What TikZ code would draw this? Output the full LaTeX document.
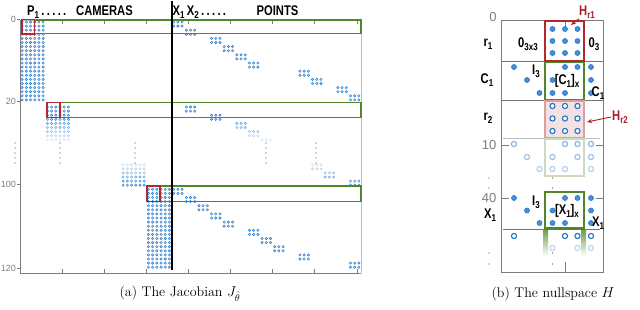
\documentclass[tikz,border=0pt]{standalone}
\usepackage{fontspec}
\usetikzlibrary{arrows.meta}
\newfontfamily\lblfont[FakeStretch=0.8]{Liberation Sans}
\newfontfamily\numfont{Liberation Sans}
\definecolor{jblue}{RGB}{45,125,205}
\definecolor{hblue}{RGB}{30,115,200}
\definecolor{gbox}{RGB}{80,135,40}
\definecolor{rbox}{RGB}{180,40,45}
\definecolor{hred}{RGB}{165,30,40}
\definecolor{axgray}{RGB}{125,125,125}
\newcommand\lsub[1]{\raisebox{-0.45ex}{\fontsize{10}{10}\selectfont #1}}

\begin{document}
\begin{tikzpicture}[
  x=1pt,
  y=-1pt,
  font=\numfont\fontsize{9}{10}\selectfont,
  lbl/.style={font=\lblfont\bfseries\fontsize{14}{14}\selectfont, inner sep=0pt},
  tick/.style={text=axgray, inner sep=0pt},
  bigtick/.style={font=\numfont\fontsize{13}{13}\selectfont, text=axgray, inner sep=0pt},
  jd/.style={draw=jblue, fill=jblue!40, line width=0.4pt},
  hd/.style={draw=hblue, fill=hblue!80, line width=0.6pt},
  ho/.style={draw=hblue, fill=white, line width=1.1pt},
  greenbox/.style={draw=gbox, line width=1.6pt},
  redbox/.style={draw=rbox, line width=1.6pt},
  capt/.style={font=\rmfamily\fontsize{14}{16}\selectfont, inner sep=0pt}
]
\useasboundingbox (0,0) rectangle (640,309);

% ---- (a) Jacobian: axes
\draw[axgray!50, line width=0.6pt] (20,20) -- (361,20) -- (361,273);
\draw[axgray, line width=0.8pt] (20,20) -- (20,273) -- (361,273);
\foreach \i in {1,...,8} {
  \draw[axgray, line width=0.6pt] ({20+42.1*\i},273) -- ({20+42.1*\i},269);
  \draw[axgray, line width=0.6pt] ({20+42.1*\i},20) -- ({20+42.1*\i},24);
}
\foreach \y/\lab in {19/0,101/20,184/100,268/120} {
  \draw[axgray, line width=0.6pt] (17,\y) -- (20,\y);
  \node[tick, anchor=east] (ya\lab) at (16,\y) {\lab};
}
\foreach \x in {15,60,135,266,316}
  \foreach \y in {143,148,...,163}
    \fill[black!70] (\x,\y) circle[radius=0.6pt];

% camera 1
\foreach \r in {0,...,19}
  \foreach \c in {0,...,5}
    \filldraw[jd] ({20+4.21*(\c+0.5)},{22+4.1*\r}) circle[radius=1.25pt];
\foreach \k [count=\i from 0] in {0,1,3,4,5,6,10,11,13,14}
  \foreach \rr in {0,1}
    \foreach \j in {0,1,2}
      \filldraw[jd] ({20+4.21*(36+3*\k+\j+0.5)},{22+4.1*(2*\i+\rr)}) circle[radius=1.25pt];

% camera 2 (fades out)
\foreach \r/\op in {0/1,1/1,2/1,3/.9,4/.7,5/.55,6/.4,7/.28,8/.16}
  \foreach \c in {6,...,11}
    \filldraw[jd, opacity=\op] ({20+4.21*(\c+0.5)},{107+4.1*\r}) circle[radius=1.25pt];
\foreach \k/\r/\op in {1/0/1,1/1/1,3/2/1,3/3/1,5/4/.7,5/5/.55,6/6/.4,6/7/.28,7/8/.16}
  \foreach \j in {0,1,2}
    \filldraw[jd, opacity=\op] ({20+4.21*(36+3*\k+\j+0.5)},{107+4.1*\r}) circle[radius=1.25pt];

% camera 5 (fades in)
\foreach \r/\op in {0/.2,1/.3,2/.45,3/.6,4/.8,5/.95}
  \foreach \c in {24,...,29}
    \filldraw[jd, opacity=\op] ({20+4.21*(\c+0.5)},{164.7+4.1*\r}) circle[radius=1.25pt];
\foreach \k/\r/\op in {11/0/.2,11/1/.3,12/2/.45,12/3/.6,14/4/.8,14/5/.95}
  \foreach \j in {0,1,2}
    \filldraw[jd, opacity=\op] ({20+4.21*(36+3*\k+\j+0.5)},{164.7+4.1*\r}) circle[radius=1.25pt];

% camera 6
\foreach \r in {0,...,19}
  \foreach \c in {30,...,35}
    \filldraw[jd] ({20+4.21*(\c+0.5)},{189.3+4.1*\r}) circle[radius=1.25pt];
\foreach \k [count=\i from 0] in {0,1,2,3,4,6,7,8,10,14}
  \foreach \rr in {0,1}
    \foreach \j in {0,1,2}
      \filldraw[jd] ({20+4.21*(36+3*\k+\j+0.5)},{189.3+4.1*(2*\i+\rr)}) circle[radius=1.25pt];

% blocks
\draw[greenbox] (34.5,20) rectangle (361,33.5);
\draw[greenbox] (60,102.5) rectangle (361,117.5);
\draw[greenbox] (160,186) rectangle (361,201.5);
\draw[redbox] (22,19.5) rectangle (34.5,34);
\draw[redbox] (47,102.5) rectangle (60,117.5);
\draw[redbox] (147,186) rectangle (160,201.5);
\draw[black, line width=1.4pt] (172,1) -- (172,270);

\node[lbl, anchor=base west] (pcam) at (27,15) {P\lsub{1}\,.\,.\,.\,.\,.};
\node[lbl, anchor=base] (cams) at (104.5,15) {CAMERAS};
\node[lbl, anchor=base west] (xpts) at (172.5,15) {X\lsub{1}\,X\lsub{2}\,.\,.\,.\,.\,.};
\node[lbl, anchor=base] (pts) at (277.5,15) {POINTS};

% ---- (b) nullspace
\draw[black!55, line width=0.8pt] (501.5,61.5) -- (603,61.5);
\draw[black!55, line width=0.8pt] (501.5,100) -- (603,100);
\draw[black!25, line width=0.8pt] (503,138) -- (600,138);
\draw[black!55, line width=0.8pt] (503,229.5) -- (600,229.5);
\draw[axgray, line width=0.8pt] (501.5,20) rectangle (603,272.5);
\foreach \y in {145,198} {
  \draw[axgray, line width=0.8pt] (501.5,\y) -- (509,\y);
  \draw[axgray, line width=0.8pt] (596,\y) -- (603,\y);
}
\draw[axgray, line width=0.8pt] (565,20) -- (565,29);
\draw[axgray, line width=0.8pt] (565,262) -- (565,272.5);
\node[bigtick] (yb0) at (493,17) {0};
\node[bigtick] (yb10) at (489,145) {10};
\node[bigtick] (yb40) at (489,198) {40};

\filldraw[fill=rbox!14, draw=rbox!45, line width=1.6pt] (545,101) rectangle (584,137.5);
\draw[gbox!30, line width=1.8pt] (545,139) rectangle (584,176);
\shade[top color=gbox!85, bottom color=white] (543,229) rectangle (548,256);
\shade[top color=gbox!85, bottom color=white] (581.5,229) rectangle (586,256);
\draw[redbox, line width=2pt] (545,21) rectangle (584,61);
\draw[greenbox, line width=1.8pt] (545,62.5) rectangle (584,99.5);
\draw[greenbox, line width=2.2pt] (545,192) rectangle (584,228.5);

\foreach \x/\y in {552.5/29,565/29,577.5/29,552.5/41,565/41,577.5/41,552.5/53,565/53,577.5/53,
    514/67,565/67,577.5/67,591/67,527/80,552.5/80,591/80,539.5/93,552.5/93,565/93,591/93,
    514/198,565/198,577.5/198,591/198,527/210.5,552.5/210.5,591/210.5,539.5/223,552.5/223,565/223,591/223}
  \filldraw[hd] (\x,\y) circle[radius=2.5pt];
\foreach \x/\y in {552.5/106,565/106,577.5/106,552.5/118.5,565/118.5,577.5/118.5,552.5/131,565/131,577.5/131,
    514/236,565/236,577.5/236,591/236}
  \filldraw[ho] (\x,\y) circle[radius=2.6pt];
\foreach \x/\y/\op in {514/144/.55,565/144/.55,577.5/144/.55,591/144/.55,527/157/.45,552.5/157/.45,577.5/157/.45,591/157/.45,
    539.5/169/.35,552.5/169/.35,565/169/.35,591/169/.35,552.5/248/.3,577.5/248/.3,591/248/.3}
  \filldraw[ho, opacity=\op] (\x,\y) circle[radius=2.6pt];
\foreach \x in {489,552.5}
  \foreach \y in {178,188,253,264}
    \fill[black!70] (\x,\y) circle[radius=0.7pt];

\node[lbl] (r1) at (488,44) {r\lsub{1}};
\node[lbl] (c1) at (487,80) {C\lsub{1}};
\node[lbl] (r2) at (488,118) {r\lsub{2}};
\node[lbl] (x1) at (490,215) {X\lsub{1}};
\node[lbl] (z33) at (528,44) {0\lsub{3x3}};
\node[lbl] (z3) at (594,44) {0\lsub{3}};
\node[lbl] (i3a) at (536,71) {I\lsub{3}};
\node[lbl] (i3b) at (536,202) {I\lsub{3}};
\node[lbl] (c1x) at (567,81) {[C\lsub{1}]\lsub{x}};
\node[lbl] (x1x) at (567,211) {[X\lsub{1}]\lsub{x}};
\node[lbl] (c1r) at (598,93) {C\lsub{1}};
\node[lbl] (x1r) at (598,223) {X\lsub{1}};

\node[lbl, text=hred] (hr1) at (587,12) {H\lsub{r1}};
\node[lbl, text=hred] (hr2) at (620,117) {H\lsub{r2}};
\coordinate (hr1tip) at (571,25);
\coordinate (hr2tip) at (587,122);
\draw[hred, line width=0.9pt, -{Stealth[length=5pt,width=4pt]}] (hr1.south west) -- (hr1tip);
\draw[hred, line width=0.9pt, -{Stealth[length=5pt,width=4pt]}] ([xshift=-1pt]hr2.west) -- (hr2tip);

% captions
\node[capt] (capa) at (180,294) {(a) The Jacobian $J_{\hat\theta}$};
\node[capt] (capb) at (553,294) {(b) The nullspace $H$};
\end{tikzpicture}
\end{document}
